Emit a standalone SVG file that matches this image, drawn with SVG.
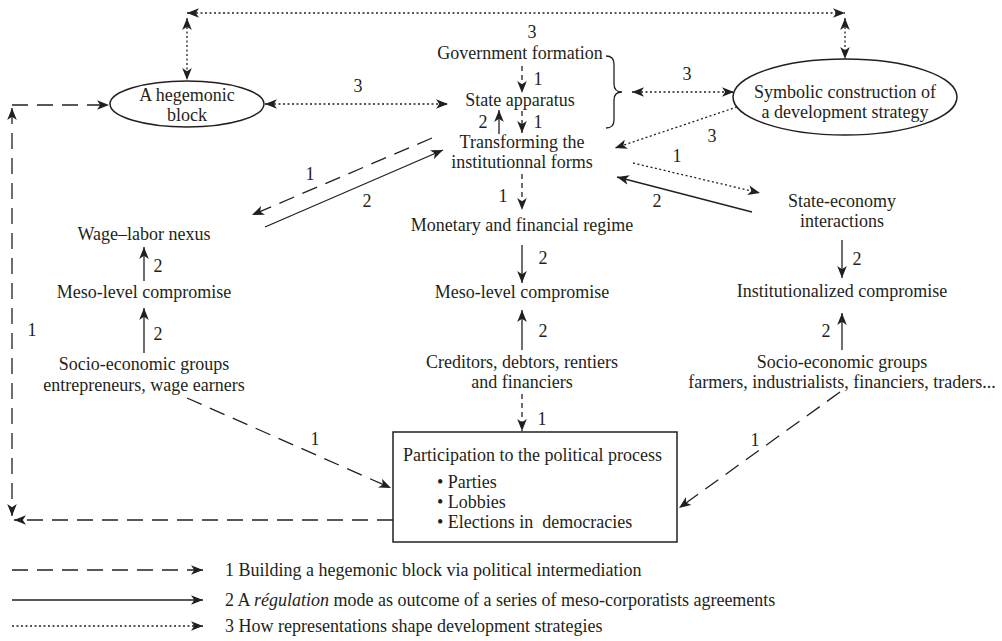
<svg xmlns="http://www.w3.org/2000/svg" width="1002" height="641" viewBox="0 0 1002 641">
<style>
text{font-family:"Liberation Serif","Times New Roman",serif;font-size:18px;fill:#231f20}
.c{text-anchor:middle}
.ln{fill:none;stroke:#231f20;stroke-width:1.3}
.da{stroke-dasharray:16,9}
.ds{stroke-dasharray:5,4}
.dt{stroke-dasharray:2,2.5}
.shape{fill:#fff;stroke:#231f20;stroke-width:1.5}
.pre{white-space:pre}
</style>
<defs>
<marker id="a" viewBox="0 -5 13 10" refX="12" refY="0" markerWidth="13" markerHeight="10" markerUnits="userSpaceOnUse" orient="auto-start-reverse">
<path d="M0,-4.8 L12,0 L0,4.8 L3.2,0 Z" fill="#231f20"/>
</marker>
</defs>

<g id="connectors">
<path class="ln dt" d="M187,13 H845" marker-start="url(#a)" marker-end="url(#a)"/>
<path class="ln dt" d="M187,18 V80" marker-start="url(#a)" marker-end="url(#a)"/>
<path class="ln dt" d="M845,18 V59" marker-start="url(#a)" marker-end="url(#a)"/>
<path class="ln dt" d="M265,104 H448" marker-start="url(#a)" marker-end="url(#a)"/>
<path class="ln dt" d="M632,92 H734" marker-start="url(#a)" marker-end="url(#a)"/>
<path class="ln dt" d="M737,107 L615,148" marker-end="url(#a)"/>
<path class="ln dt" d="M633,163 L760,193" marker-end="url(#a)"/>
<path class="ln" d="M752,212 L617,177" marker-end="url(#a)"/>
<path class="ln ds" d="M522,66 V93" marker-end="url(#a)"/>
<path class="ln ds" d="M522,111 V133" marker-end="url(#a)"/>
<path class="ln" d="M499,134 V110" marker-end="url(#a)"/>
<path class="ln ds" d="M522,174 V210" marker-end="url(#a)"/>
<path class="ln" d="M522,245 V283" marker-end="url(#a)"/>
<path class="ln" d="M522,350 V310" marker-end="url(#a)"/>
<path class="ln ds" d="M522,394 V431" marker-end="url(#a)"/>
<path class="ln da" d="M432,138 L252,215" marker-end="url(#a)"/>
<path class="ln" d="M265,227 L443,150" marker-end="url(#a)"/>
<path class="ln" d="M144,281 V247" marker-end="url(#a)"/>
<path class="ln" d="M144,353 V308" marker-end="url(#a)"/>
<path class="ln" d="M842,240 V278" marker-end="url(#a)"/>
<path class="ln" d="M842,350 V313" marker-end="url(#a)"/>
<path class="ln da" d="M187,398 L391,488" marker-end="url(#a)"/>
<path class="ln da" d="M840,392 L679,508" marker-end="url(#a)"/>
<path class="ln da" d="M393,520 H14" marker-end="url(#a)"/>
<path class="ln da" d="M12,108 V516" marker-start="url(#a)" marker-end="url(#a)"/>
<path class="ln da" d="M12,105 H109" marker-end="url(#a)"/>
<path class="ln" d="M606,56 Q614,56 614,64 V84 Q614,92 622,92 Q614,92 614,100 V120 Q614,128 606,128"/>
<text x="358" y="92" class="c">3</text>
<text x="687" y="80" class="c">3</text>
<text x="712" y="142" class="c">3</text>
<text x="532" y="38" class="c">3</text>
<text x="538" y="85" class="c">1</text>
<text x="483" y="128" class="c">2</text>
<text x="538" y="128" class="c">1</text>
<text x="503" y="202" class="c">1</text>
<text x="543" y="264" class="c">2</text>
<text x="543" y="337" class="c">2</text>
<text x="542" y="425" class="c">1</text>
<text x="310" y="180" class="c">1</text>
<text x="367" y="207" class="c">2</text>
<text x="677" y="162" class="c">1</text>
<text x="657" y="207" class="c">2</text>
<text x="158" y="272" class="c">2</text>
<text x="158" y="340" class="c">2</text>
<text x="857" y="265" class="c">2</text>
<text x="826" y="337" class="c">2</text>
<text x="315" y="445" class="c">1</text>
<text x="755" y="446" class="c">1</text>
<text x="32" y="336" class="c">1</text>
</g>

<g id="hegemonic-block">
<ellipse class="shape" cx="187" cy="104" rx="77" ry="23"/>
<text x="187" y="101" class="c">A hegemonic</text>
<text x="187" y="121" class="c">block</text>
</g>
<g id="symbolic-construction">
<ellipse class="shape" cx="845" cy="97" rx="112" ry="38"/>
<text x="845" y="98" class="c">Symbolic construction of</text>
<text x="845" y="118" class="c">a development strategy</text>
</g>
<g id="government-formation"><text x="520" y="59" class="c">Government formation</text></g>
<g id="state-apparatus"><text x="520" y="106" class="c">State apparatus</text></g>
<g id="transforming">
<text x="522" y="148" class="c">Transforming the</text>
<text x="522" y="168" class="c">institutionnal forms</text>
</g>
<g id="monetary-regime"><text x="522" y="231" class="c">Monetary and financial regime</text></g>
<g id="meso-middle"><text x="522" y="298" class="c">Meso-level compromise</text></g>
<g id="creditors">
<text x="522" y="368" class="c">Creditors, debtors, rentiers</text>
<text x="522" y="388" class="c">and financiers</text>
</g>
<g id="wage-labor"><text x="144" y="240" class="c">Wage–labor nexus</text></g>
<g id="meso-left"><text x="144" y="298" class="c">Meso-level compromise</text></g>
<g id="socio-left">
<text x="144" y="370" class="c">Socio-economic groups</text>
<text x="144" y="391" class="c">entrepreneurs, wage earners</text>
</g>
<g id="state-economy">
<text x="842" y="207" class="c">State-economy</text>
<text x="842" y="227" class="c">interactions</text>
</g>
<g id="institutionalized"><text x="842" y="297" class="c">Institutionalized compromise</text></g>
<g id="socio-right">
<text x="842" y="368" class="c">Socio-economic groups</text>
<text x="842" y="388" class="c">farmers, industrialists, financiers, traders...</text>
</g>
<g id="participation">
<rect class="shape" x="393" y="432" width="284" height="110"/>
<text x="403" y="461">Participation to the political process</text>
<text x="437" y="488">• Parties</text>
<text x="437" y="508">• Lobbies</text>
<text x="437" y="528" class="pre">• Elections in  democracies</text>
</g>

<g id="legend">
<path class="ln da" d="M12,570 H203" marker-end="url(#a)"/>
<path class="ln" d="M12,600 H203" marker-end="url(#a)"/>
<path class="ln dt" d="M12,626 H203" marker-end="url(#a)"/>
<text x="225" y="576">1 Building a hegemonic block via political intermediation</text>
<text x="225" y="606">2 A <tspan font-style="italic">régulation</tspan> mode as outcome of a series of meso-corporatists agreements</text>
<text x="225" y="632">3 How representations shape development strategies</text>
</g>
</svg>
